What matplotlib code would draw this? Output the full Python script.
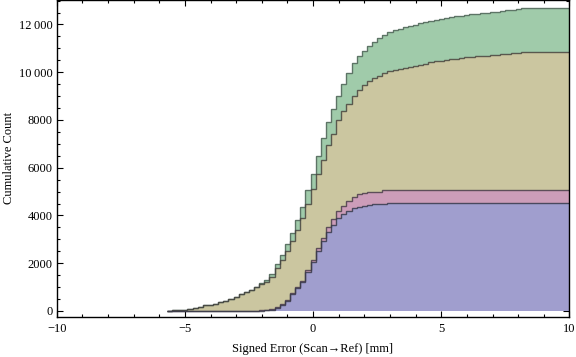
import numpy as np
import matplotlib
matplotlib.use("Agg")
import matplotlib.pyplot as plt
from matplotlib.ticker import MultipleLocator, FixedLocator

# ---- data: cumulative counts per bin (bin width 0.2 mm, first bin starts at -5.7 mm)
bin_start = -5.7
bin_width = 0.2

green_cum = [10, 20, 30, 45, 80, 130, 180, 230, 250, 300, 360, 420, 500, 590, 690, 795,
             880, 1010, 1160, 1296, 1547, 1952, 2341, 2788, 3248, 3790, 4335, 5058, 5755,
             6500, 7225, 7895, 8440, 9020, 9518, 9948, 10379, 10659, 10881, 11106, 11273,
             11424, 11579, 11675, 11759, 11817, 11884, 11942, 11997, 12051, 12093, 12135,
             12193, 12235, 12260, 12302, 12344, 12373, 12415, 12428, 12456, 12486, 12498,
             12511, 12540, 12582, 12611, 12624, 12653, 12707, 12707, 12707, 12707, 12707,
             12707, 12707, 12707, 12707, 12707]
tan_cum = [10, 20, 30, 45, 80, 130, 180, 230, 250, 300, 360, 420, 500, 590, 690, 790,
           870, 990, 1128, 1225, 1434, 1785, 2132, 2508, 2950, 3400, 3900, 4473, 5113,
           5755, 6340, 6967, 7427, 7984, 8360, 8682, 9000, 9267, 9447, 9614, 9752,
           9852, 9948, 10032, 10074, 10116, 10157, 10212, 10254, 10312, 10354, 10408,
           10450, 10479, 10504, 10534, 10563, 10588, 10617, 10630, 10659, 10672, 10688,
           10701, 10730, 10755, 10772, 10784, 10814, 10856, 10856, 10856, 10856, 10856,
           10856, 10856, 10856, 10856, 10856]
pink_cum = [0, 0, 0, 0, 0, 0, 0, 0, 0, 0, 0, 0, 0, 0, 0, 0,
            5, 10, 20, 40, 90, 170, 290, 470, 760, 1000, 1260, 1720, 2132,
            2621, 3064, 3499, 3846, 4180, 4389, 4598, 4778, 4878, 4920, 4962, 5003,
            5003, 5058, 5087, 5087, 5087, 5087, 5087, 5087, 5087, 5087, 5087,
            5087, 5087, 5087, 5087, 5087, 5087, 5087, 5087, 5087, 5087, 5087,
            5087, 5087, 5087, 5087, 5087, 5087, 5087, 5087, 5087, 5087, 5087,
            5087, 5087, 5087, 5087, 5087]
blue_cum = [0, 0, 0, 0, 0, 0, 0, 0, 0, 0, 0, 0, 0, 0, 0, 0,
            0, 5, 10, 25, 60, 130, 245, 418, 711, 948, 1198, 1644, 2062,
            2508, 2926, 3316, 3595, 3875, 4055, 4193, 4293, 4347, 4389, 4431, 4473,
            4473, 4473, 4502, 4502, 4502, 4502, 4502, 4502, 4502, 4502, 4502,
            4502, 4502, 4502, 4502, 4502, 4502, 4502, 4502, 4502, 4502, 4502,
            4502, 4502, 4502, 4502, 4502, 4502, 4502, 4502, 4502, 4502, 4502,
            4502, 4502, 4502, 4502, 4502]

x_ticks = [-10, -5, 0, 5, 10]
x_ticklabels = ["\u221210", "\u22125", "0", "5", "10"]
y_ticks = [0, 2000, 4000, 6000, 8000, 10000, 12000]
y_ticklabels = ["0", "2000", "4000", "6000", "8000", "10\u2009000", "12\u2009000"]

layers = [
    (green_cum, "#A0CBAA", "#52655A"),
    (tan_cum, "#CBC6A0", "#454540"),
    (pink_cum, "#CC9DB9", "#4A4048"),
    (blue_cum, "#A09ECE", "#3A3A4A"),
]

plt.rcParams["font.family"] = ["Liberation Serif", "DejaVu Serif"]

fig = plt.figure(figsize=(5.76, 3.57), dpi=100)
ax = fig.add_axes([0.0984, 0.112, 0.8903, 0.887])

n = len(green_cum)
edges = bin_start + bin_width * np.arange(n + 1)

for vals, fc, ec in layers:
    ax.stairs(vals, edges, baseline=0, fill=True, color=fc, lw=0, zorder=2)
    ax.stairs(vals, edges, baseline=0, fill=False, color=ec, lw=1.0, alpha=0.85, zorder=3)

ax.set_xlim(-10, 10)
ax.set_ylim(-254, 13010)

ax.xaxis.set_major_locator(FixedLocator(x_ticks))
ax.set_xticklabels(x_ticklabels)
ax.xaxis.set_minor_locator(MultipleLocator(1))
ax.yaxis.set_major_locator(FixedLocator(y_ticks))
ax.set_yticklabels(y_ticklabels)
ax.yaxis.set_minor_locator(MultipleLocator(500))

ax.tick_params(which="both", direction="in", top=True, right=True, labelsize=9,
               width=0.8, color="black")
ax.tick_params(which="major", length=4.5)
ax.tick_params(which="minor", length=2.5)
ax.tick_params(axis="y", pad=3)
ax.tick_params(axis="x", pad=4)

for s in ax.spines.values():
    s.set_linewidth(1.0)
    s.set_zorder(5)

fig.text(313 / 576, 1 - 349 / 357, "Signed Error (Scan\u2192Ref) [mm]", fontsize=9,
         ha="center", va="center")
fig.text(9 / 576, 1 - 158 / 357, "Cumulative Count", fontsize=9, rotation=90,
         ha="center", va="center")

fig.savefig("out.png", dpi=100)
